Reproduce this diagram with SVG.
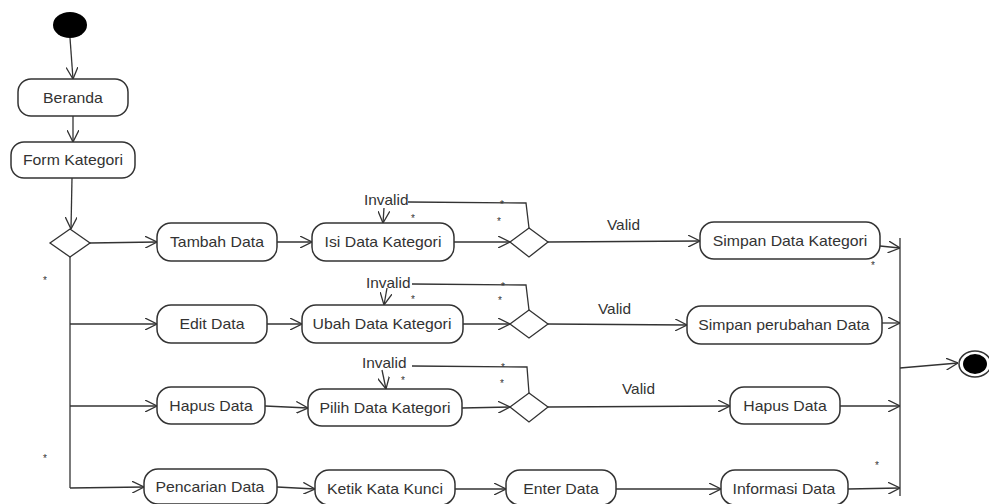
<svg xmlns="http://www.w3.org/2000/svg" width="989" height="504" viewBox="0 0 989 504">
<defs>
<marker id="arr" viewBox="0 0 12 12" refX="12" refY="6" markerWidth="12" markerHeight="12" markerUnits="userSpaceOnUse" orient="auto">
<path d="M0,0 L12,6 L0,12" fill="none" stroke="#333" stroke-width="1.3"/>
</marker>
<style>
.box{fill:#fff;stroke:#333;stroke-width:1.5}
.dia{fill:#fff;stroke:#333;stroke-width:1.3}
.lbl{font-family:"Liberation Sans",Arial,sans-serif;font-size:14px;fill:#333;text-anchor:middle;transform-box:fill-box;transform-origin:center;transform:scaleX(1.13)}
.txt{font-family:"Liberation Sans",Arial,sans-serif;font-size:14px;fill:#333;transform-box:fill-box;transform-origin:left center;transform:scaleX(1.1)}
.star{font-family:"Liberation Sans",Arial,sans-serif;font-size:10px;fill:#333;text-anchor:middle}
.c{fill:none;stroke:#333;stroke-width:1.3}
.ca{fill:none;stroke:#333;stroke-width:1.3;marker-end:url(#arr)}
</style>
</defs>
<rect width="989" height="504" fill="#fff"/>

<g id="connectors">
<line class="ca" x1="70" y1="38" x2="73" y2="79"/>
<line class="ca" x1="73" y1="116" x2="73" y2="142"/>
<line class="ca" x1="72" y1="178" x2="71" y2="229"/>
<line class="ca" x1="90" y1="243" x2="157" y2="242"/>
<polyline class="c" points="70,257 70,488"/>
<line class="ca" x1="70" y1="324" x2="157" y2="324"/>
<line class="ca" x1="70" y1="406" x2="157" y2="406"/>
<line class="ca" x1="70" y1="488" x2="144" y2="487"/>

<line class="ca" x1="277" y1="242" x2="312" y2="242"/>
<line class="ca" x1="454" y1="242" x2="510" y2="242"/>
<polyline class="c" points="408,202 526,203 529,228"/>
<line class="ca" x1="384" y1="208" x2="383" y2="223"/>
<line class="ca" x1="548" y1="242" x2="700" y2="241"/>
<line class="ca" x1="880" y1="246" x2="900" y2="248"/>

<line class="ca" x1="267" y1="324" x2="302" y2="324"/>
<line class="ca" x1="463" y1="324" x2="510" y2="324"/>
<polyline class="c" points="412,284 526,285 529,310"/>
<line class="ca" x1="387" y1="288" x2="384" y2="305"/>
<line class="ca" x1="548" y1="324" x2="687" y2="325"/>
<line class="ca" x1="882" y1="323" x2="900" y2="323"/>

<line class="ca" x1="265" y1="406" x2="308" y2="408"/>
<line class="ca" x1="462" y1="408" x2="510" y2="407"/>
<polyline class="c" points="412,366 527,367 529,393"/>
<line class="ca" x1="382" y1="370" x2="386" y2="389"/>
<line class="ca" x1="548" y1="407" x2="730" y2="406"/>
<line class="ca" x1="840" y1="406" x2="900" y2="406"/>

<line class="ca" x1="277" y1="487" x2="315" y2="489"/>
<line class="ca" x1="455" y1="489" x2="506" y2="489"/>
<line class="ca" x1="616" y1="489" x2="721" y2="489"/>
<line class="ca" x1="848" y1="489" x2="900" y2="488"/>

<line class="c" x1="900" y1="238" x2="900" y2="496" stroke-width="1.6"/>
<line class="ca" x1="900" y1="368" x2="958" y2="363"/>
</g>

<g id="start"><ellipse cx="70" cy="25" rx="17" ry="13" fill="#000"/></g>
<g id="end">
<ellipse cx="975" cy="364" rx="16" ry="13" fill="#fff" stroke="#333" stroke-width="1.5"/>
<ellipse cx="975" cy="364" rx="12" ry="10" fill="#000"/>
</g>

<g id="beranda"><rect class="box" x="18" y="79" width="110" height="37" rx="13"/><text class="lbl" x="73" y="103">Beranda</text></g>
<g id="form-kategori"><rect class="box" x="11" y="142" width="124" height="36" rx="13"/><text class="lbl" x="73" y="165">Form Kategori</text></g>
<g id="decision-main"><polygon class="dia" points="70,229 90,243 70,257 50,243"/></g>

<g id="tambah-data"><rect class="box" x="157" y="223" width="120" height="38" rx="14"/><text class="lbl" x="217" y="247">Tambah Data</text></g>
<g id="isi-data-kategori"><rect class="box" x="312" y="223" width="142" height="38" rx="14"/><text class="lbl" x="383" y="247">Isi Data Kategori</text></g>
<g id="decision-1"><polygon class="dia" points="529,228 548,242 529,257 510,242"/></g>
<g id="simpan-data-kategori"><rect class="box" x="700" y="222" width="180" height="37" rx="14"/><text class="lbl" x="790" y="246">Simpan Data Kategori</text></g>

<g id="edit-data"><rect class="box" x="157" y="305" width="110" height="38" rx="14"/><text class="lbl" x="212" y="329">Edit Data</text></g>
<g id="ubah-data-kategori"><rect class="box" x="302" y="305" width="161" height="38" rx="14"/><text class="lbl" x="382" y="329">Ubah Data Kategori</text></g>
<g id="decision-2"><polygon class="dia" points="529,310 548,324 529,338 510,324"/></g>
<g id="simpan-perubahan-data"><rect class="box" x="687" y="306" width="195" height="38" rx="14"/><text class="lbl" x="784" y="330">Simpan perubahan Data</text></g>

<g id="hapus-data"><rect class="box" x="157" y="387" width="108" height="37" rx="14"/><text class="lbl" x="211" y="411">Hapus Data</text></g>
<g id="pilih-data-kategori"><rect class="box" x="308" y="389" width="154" height="37" rx="14"/><text class="lbl" x="385" y="413">Pilih Data Kategori</text></g>
<g id="decision-3"><polygon class="dia" points="529,393 548,407 529,422 510,407"/></g>
<g id="hapus-data-2"><rect class="box" x="730" y="387" width="110" height="37" rx="14"/><text class="lbl" x="785" y="411">Hapus Data</text></g>

<g id="pencarian-data"><rect class="box" x="144" y="469" width="133" height="35" rx="14"/><text class="lbl" x="210" y="492">Pencarian Data</text></g>
<g id="ketik-kata-kunci"><rect class="box" x="315" y="470" width="140" height="35" rx="14"/><text class="lbl" x="385" y="494">Ketik Kata Kunci</text></g>
<g id="enter-data"><rect class="box" x="506" y="470" width="110" height="35" rx="14"/><text class="lbl" x="561" y="494">Enter Data</text></g>
<g id="informasi-data"><rect class="box" x="721" y="470" width="127" height="35" rx="14"/><text class="lbl" x="784" y="494">Informasi Data</text></g>

<g id="labels">
<text class="txt" x="364" y="205">Invalid</text>
<text class="txt" x="366" y="288">Invalid</text>
<text class="txt" x="362" y="368">Invalid</text>
<text class="txt" x="607" y="230">Valid</text>
<text class="txt" x="598" y="314">Valid</text>
<text class="txt" x="622" y="394">Valid</text>
<text class="star" x="413" y="222">*</text>
<text class="star" x="502" y="208">*</text>
<text class="star" x="499" y="225">*</text>
<text class="star" x="413" y="303">*</text>
<text class="star" x="503" y="290">*</text>
<text class="star" x="500" y="304">*</text>
<text class="star" x="403" y="384">*</text>
<text class="star" x="503" y="371">*</text>
<text class="star" x="502" y="387">*</text>
<text class="star" x="45" y="284">*</text>
<text class="star" x="45" y="462">*</text>
<text class="star" x="873" y="269">*</text>
<text class="star" x="877" y="469">*</text>
</g>
</svg>
